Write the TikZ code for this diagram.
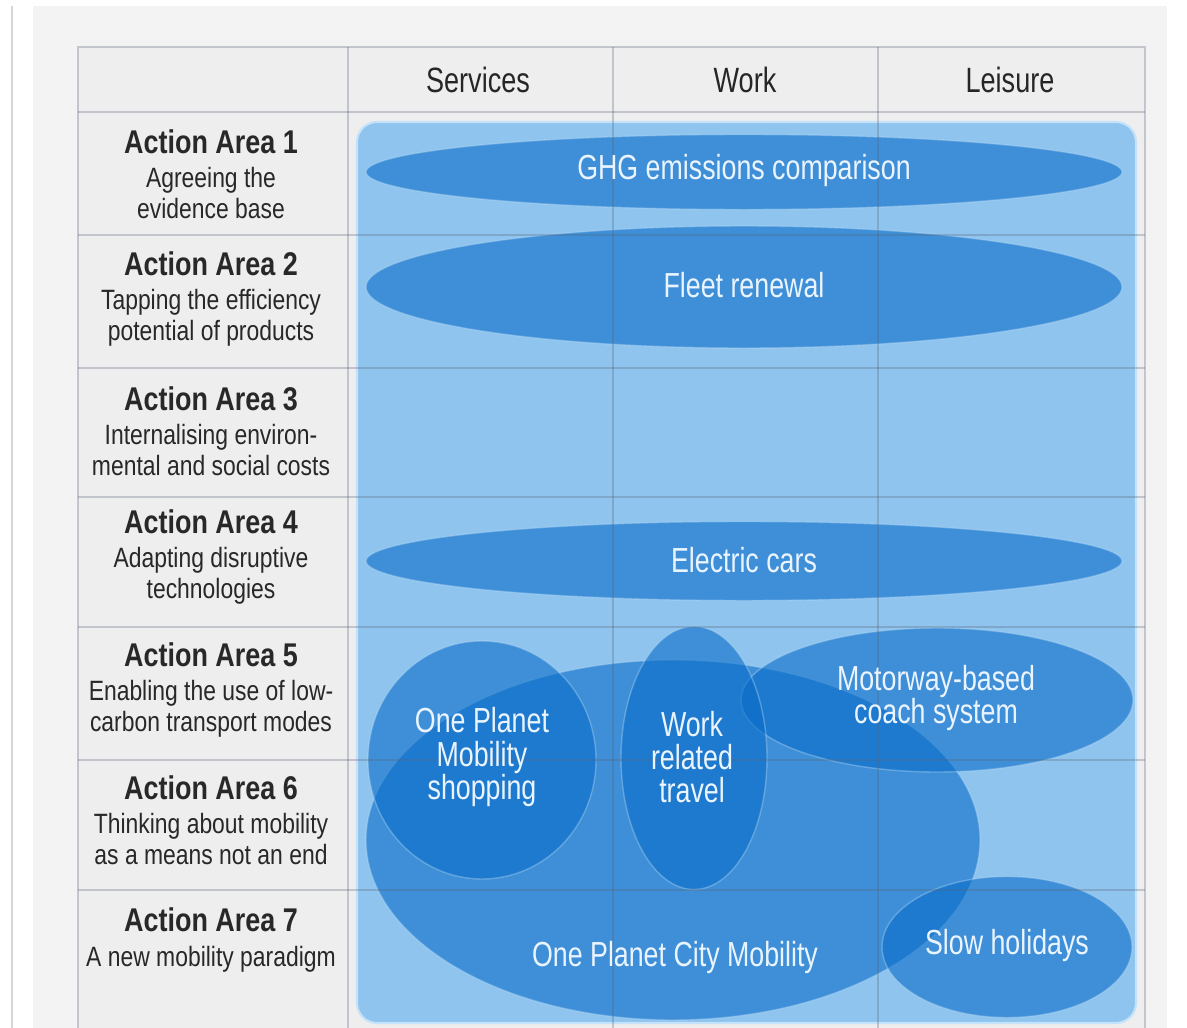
\documentclass[tikz,border=0pt]{standalone}
\usepackage{fontspec}
\setmainfont{Liberation Sans}[FakeStretch=0.82]
\newfontfamily\narrowsans{Liberation Sans}[FakeStretch=0.77]
\usetikzlibrary{shapes.geometric}

\definecolor{panelgrey}{RGB}{243,243,243}
\definecolor{cellgrey}{RGB}{238,238,238}
\definecolor{sidegrey}{RGB}{214,214,214}
\definecolor{gridink}{RGB}{90,100,120}
\definecolor{zoneback}{RGB}{142,196,238}
\definecolor{zonerim}{RGB}{196,226,250}
\definecolor{zoneblue}{RGB}{9,108,200}
\definecolor{labelink}{RGB}{234,244,255}
\definecolor{areaink}{RGB}{40,40,40}

% one unit = one pixel of a 1187 x 1028 canvas
\newcommand{\pxu}{0.02cm}
\newcommand{\aahead}[1]{{\fontsize{18.7}{17.6}\selectfont\bfseries #1}}

\begin{document}
\begin{tikzpicture}[x=0.02cm,y=-0.02cm,
  zone/.style={ellipse, inner sep=0pt, fill=zoneblue, fill opacity=0.6,
    draw=zonerim, draw opacity=0.35, line width=0.8pt},
  zonelabel/.style={text=labelink, align=center, inner sep=0pt,
    font=\narrowsans\fontsize{19.8}{18.8}\selectfont},
  area/.style={text=areaink, align=center, inner sep=0pt,
    font=\fontsize{15.9}{17.6}\selectfont},
  colhead/.style={text=black!85, inner sep=0pt,
    font=\narrowsans\fontsize{20}{20}\selectfont},
  gridline/.style={draw=gridink, draw opacity=0.3, line width=1.1pt}]

\useasboundingbox (0,0) rectangle (1187,1028);
\clip (0,0) rectangle (1187,1028);

% page, side rule and panel
\fill[white] (0,0) rectangle (1187,1028);
\fill[panelgrey] (33,6) rectangle (1167,1040);
\draw[sidegrey, line width=1.6pt] (12,6) -- (12,1040);

% table body
\fill[cellgrey] (78,47) rectangle (1145,1040);

% blue field behind the measures
\fill[zoneback, rounded corners=0.4cm] (357,122) rectangle (1136,1023);
\draw[zonerim, line width=1.2pt, rounded corners=0.4cm] (357,122) rectangle (1136,1023);

% measures as overlapping translucent ellipses
\node[zone, minimum width={756*\pxu}, minimum height={75*\pxu}] (ghg) at (744,172) {};
\node[zone, minimum width={756*\pxu}, minimum height={122*\pxu}] (fleet) at (744,287) {};
\node[zone, minimum width={756*\pxu}, minimum height={79*\pxu}] (ev) at (744,561) {};
\node[zone, minimum width={614*\pxu}, minimum height={360*\pxu}] (city) at (673,840) {};
\node[zone, minimum width={228*\pxu}, minimum height={238*\pxu}] (shop) at (482,760) {};
\node[zone, minimum width={392*\pxu}, minimum height={144*\pxu}] (coach) at (937,700) {};
\node[zone, minimum width={146*\pxu}, minimum height={263*\pxu}] (worktr) at (694,758) {};
\node[zone, minimum width={250*\pxu}, minimum height={141*\pxu}] (slow) at (1007,947) {};

% grid lines, seen through the blue
\draw[gridline] (78,47) rectangle (1145,1040);
\foreach \cx in {348,613,878} \draw[gridline] (\cx,47) -- (\cx,1040);
\foreach \ry in {112,235,368,497,627,760,890} \draw[gridline] (78,\ry) -- (1145,\ry);

% column heads
\node[colhead] (services) at (478,80) {Services};
\node[colhead] (work) at (745,80) {Work};
\node[colhead] (leisure) at (1010,80) {Leisure};

% measure labels
\node[zonelabel] (ghgt) at (744,171) {GHG emissions comparison};
\node[zonelabel] (fleett) at (744,285) {Fleet renewal};
\node[zonelabel] (evt) at (744,560) {Electric cars};
\node[zonelabel] (shopt) at (482,757) {One Planet\\Mobility\\shopping};
\node[zonelabel] (worktrt) at (692,757) {Work\\related\\travel};
\node[zonelabel] (coacht) at (936,698) {Motorway-based\\coach system};
\node[zonelabel] (cityt) at (675,957) {One Planet City Mobility};
\node[zonelabel] (slowt) at (1007,945) {Slow holidays};

% action areas
\node[area] (aa1) at (211,174) {\aahead{Action Area 1}\\[1.8pt]Agreeing the\\evidence base};
\node[area] (aa2) at (211,299) {\aahead{Action Area 2}\\[1.8pt]Tapping the efficiency\\potential of products};
\node[area] (aa3) at (211,431) {\aahead{Action Area 3}\\[1.8pt]Internalising environ-\\mental and social costs};
\node[area] (aa4) at (211,557) {\aahead{Action Area 4}\\[1.8pt]Adapting disruptive\\technologies};
\node[area] (aa5) at (211,690) {\aahead{Action Area 5}\\[1.8pt]Enabling the use of low-\\carbon transport modes};
\node[area] (aa6) at (211,820) {\aahead{Action Area 6}\\[1.8pt]Thinking about mobility\\as a means not an end};
\node[area] (aa7) at (211,940) {\aahead{Action Area 7}\\[1.8pt]A new mobility paradigm};

\end{tikzpicture}
\end{document}
